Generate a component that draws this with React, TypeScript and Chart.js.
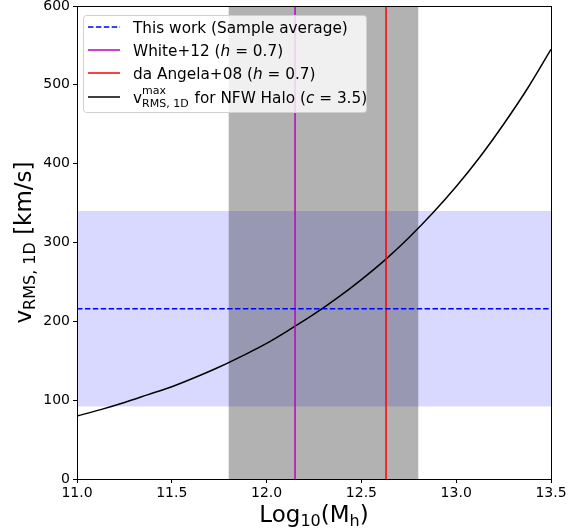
import React, { useEffect, useRef } from 'react';
import { Chart, registerables } from 'chart.js';
Chart.register(...registerables);

const logMass = [11.0, 11.125, 11.25, 11.375, 11.5, 11.625, 11.75, 11.875, 12.0, 12.125, 12.25, 12.375, 12.5, 12.625, 12.75, 12.875, 13.0, 13.125, 13.25, 13.375, 13.5];
const vrmsNFW = [80, 88, 97, 107, 117, 129, 142, 156.5, 172, 190, 209, 230, 253, 278, 306, 337, 371, 408.5, 450, 495, 545];
const sampleAverage = 216;
const sampleLow = 92;
const sampleHigh = 340;
const massRangeLow = 11.8;
const massRangeHigh = 12.8;
const white12 = 12.15;
const daAngela08 = 12.63;
const xTicks = [11.0, 11.5, 12.0, 12.5, 13.0, 13.5];
const yTicks = [0, 100, 200, 300, 400, 500, 600];

const FONT = '"DejaVu Sans", sans-serif';

type Seg = { t: string; size: number; italic?: boolean; dy?: number };

function drawRich(ctx: CanvasRenderingContext2D, x: number, y: number, segs: Seg[], align: 'left' | 'center' = 'left') {
  let total = 0;
  for (const s of segs) {
    ctx.font = `${s.italic ? 'italic ' : ''}${s.size}px ${FONT}`;
    total += ctx.measureText(s.t).width;
  }
  let cx = align === 'center' ? x - total / 2 : x;
  ctx.textBaseline = 'alphabetic';
  ctx.textAlign = 'left';
  for (const s of segs) {
    ctx.font = `${s.italic ? 'italic ' : ''}${s.size}px ${FONT}`;
    ctx.fillText(s.t, cx, y + (s.dy || 0));
    cx += ctx.measureText(s.t).width;
  }
}

const bandsPlugin = {
  id: 'bands',
  beforeDatasetsDraw(chart: any) {
    const { ctx, chartArea: a, scales } = chart;
    const xs = scales.x, ys = scales.y;
    ctx.save();
    ctx.beginPath();
    ctx.rect(a.left, a.top, a.right - a.left, a.bottom - a.top);
    ctx.clip();
    ctx.fillStyle = 'rgba(0,0,255,0.15)';
    const yt = ys.getPixelForValue(sampleHigh), yb = ys.getPixelForValue(sampleLow);
    ctx.fillRect(a.left, yt, a.right - a.left, yb - yt);
    ctx.fillStyle = 'rgba(0,0,0,0.3)';
    const xl = xs.getPixelForValue(massRangeLow), xr = xs.getPixelForValue(massRangeHigh);
    ctx.fillRect(xl, a.top, xr - xl, a.bottom - a.top);
    ctx.restore();
  },
  afterDraw(chart: any) {
    const { ctx, chartArea: a } = chart;
    ctx.save();
    ctx.strokeStyle = '#000';
    ctx.lineWidth = 1;
    ctx.strokeRect(Math.round(a.left) + 0.5, Math.round(a.top) + 0.5, Math.round(a.right - a.left), Math.round(a.bottom - a.top));
    ctx.fillStyle = '#000';
    // x title
    drawRich(ctx, (a.left + a.right) / 2, 522, [
      { t: 'Log', size: 23 },
      { t: '10', size: 16, dy: 4 },
      { t: '(M', size: 23 },
      { t: 'h', size: 16, dy: 4 },
      { t: ')', size: 23 },
    ], 'center');
    // y title
    ctx.save();
    ctx.translate(31, (a.top + a.bottom) / 2);
    ctx.rotate(-Math.PI / 2);
    drawRich(ctx, 0, 0, [
      { t: 'v', size: 23 },
      { t: 'RMS, 1D', size: 16, dy: 4 },
      { t: ' [km/s]', size: 23 },
    ], 'center');
    ctx.restore();
    // legend
    const lx = 83, ly = 15, lw = 283, lh = 97;
    ctx.beginPath();
    (ctx as any).roundRect(lx + 0.5, ly + 0.5, lw, lh, 3);
    ctx.fillStyle = 'rgba(255,255,255,0.8)';
    ctx.fill();
    ctx.strokeStyle = '#d0d0d0';
    ctx.lineWidth = 1;
    ctx.stroke();
    const rows = [
      { y: 27, color: '#0000ff', dash: [5.5, 2.4] },
      { y: 50, color: '#bf00bf', dash: [] },
      { y: 73, color: '#ff0000', dash: [] },
      { y: 97, color: '#000000', dash: [] },
    ];
    for (const r of rows) {
      ctx.beginPath();
      ctx.setLineDash(r.dash);
      ctx.strokeStyle = r.color;
      ctx.lineWidth = 1.5;
      ctx.moveTo(88, r.y);
      ctx.lineTo(120, r.y);
      ctx.stroke();
    }
    ctx.setLineDash([]);
    ctx.fillStyle = '#000';
    const tx = 133;
    const fs = 15.3;
    drawRich(ctx, tx, 27 + 5.5, [{ t: 'This work (Sample average)', size: fs }]);
    drawRich(ctx, tx, 50 + 5.5, [
      { t: 'White+12 (', size: fs },
      { t: 'h', size: fs, italic: true },
      { t: ' = 0.7)', size: fs },
    ]);
    drawRich(ctx, tx, 73 + 5.5, [
      { t: 'da Angela+08 (', size: fs },
      { t: 'h', size: fs, italic: true },
      { t: ' = 0.7)', size: fs },
    ]);
    ctx.font = `${fs}px ${FONT}`;
    const vw = ctx.measureText('v').width;
    ctx.fillText('v', tx, 97 + 5.5);
    ctx.font = `11px ${FONT}`;
    ctx.fillText('max', tx + vw, 97 - 3.5);
    const supW = ctx.measureText('max').width;
    ctx.fillText('RMS, 1D', tx + vw, 97 + 10);
    const subW = ctx.measureText('RMS, 1D').width;
    const after = tx + vw + Math.max(supW, subW) + 1;
    drawRich(ctx, after, 97 + 5.5, [
      { t: ' for NFW Halo (', size: fs },
      { t: 'c', size: fs, italic: true },
      { t: ' = 3.5)', size: fs },
    ]);
    ctx.restore();
  },
};

export default function App() {
  const ref = useRef<HTMLCanvasElement>(null);
  useEffect(() => {
    const canvas = ref.current!;
    const chart = new Chart(canvas, {
      type: 'line',
      data: {
        datasets: [
          {
            label: 'This work (Sample average)',
            data: [{ x: xTicks[0], y: sampleAverage }, { x: xTicks[xTicks.length - 1], y: sampleAverage }],
            borderColor: '#0000ff', borderWidth: 1.5, borderDash: [5.5, 2.4], pointRadius: 0,
          },
          {
            label: 'White+12 (h=0.7)',
            data: [{ x: white12, y: yTicks[0] }, { x: white12, y: yTicks[yTicks.length - 1] }],
            borderColor: '#bf00bf', borderWidth: 1.5, pointRadius: 0,
          },
          {
            label: 'da Angela+08 (h=0.7)',
            data: [{ x: daAngela08, y: yTicks[0] }, { x: daAngela08, y: yTicks[yTicks.length - 1] }],
            borderColor: '#ff0000', borderWidth: 1.5, pointRadius: 0,
          },
          {
            label: 'vRMS,1D max for NFW Halo (c=3.5)',
            data: logMass.map((m, i) => ({ x: m, y: vrmsNFW[i] })),
            borderColor: '#000000', borderWidth: 1.5, pointRadius: 0,
            cubicInterpolationMode: 'monotone',
          },
        ],
      },
      options: {
        responsive: false,
        animation: false,
        devicePixelRatio: 1,
        layout: { padding: { top: 6, right: 28, left: 0, bottom: 0 } },
        plugins: { legend: { display: false }, tooltip: { enabled: false } },
        scales: {
          x: {
            type: 'linear', min: 11, max: 13.5,
            afterBuildTicks: (s: any) => { s.ticks = xTicks.map((v) => ({ value: v })); },
            afterFit: (s: any) => { s.height = 50; s.paddingLeft = 0; s.paddingRight = 0; },
            grid: { drawOnChartArea: false, drawTicks: true, tickLength: 4, color: '#000' },
            border: { display: true, color: '#000' },
            ticks: { color: '#000', font: { family: FONT, size: 14 }, padding: 2, maxRotation: 0, callback: (v: any) => Number(v).toFixed(1) },
          },
          y: {
            type: 'linear', min: 0, max: 600,
            afterBuildTicks: (s: any) => { s.ticks = yTicks.map((v) => ({ value: v })); },
            afterFit: (s: any) => { s.width = 77; s.paddingTop = 0; s.paddingBottom = 0; },
            grid: { drawOnChartArea: false, drawTicks: true, tickLength: 4, color: '#000' },
            border: { display: true, color: '#000' },
            ticks: { color: '#000', font: { family: FONT, size: 14 }, padding: 3 },
          },
        },
      },
      plugins: [bandsPlugin],
    } as any);
    return () => chart.destroy();
  }, []);
  return (
    <div style={{ position: 'fixed', left: 0, top: 0, width: 579, height: 529, background: '#fff' }}>
      <canvas ref={ref} width={579} height={529} style={{ display: 'block', width: 579, height: 529 }} />
    </div>
  );
}
